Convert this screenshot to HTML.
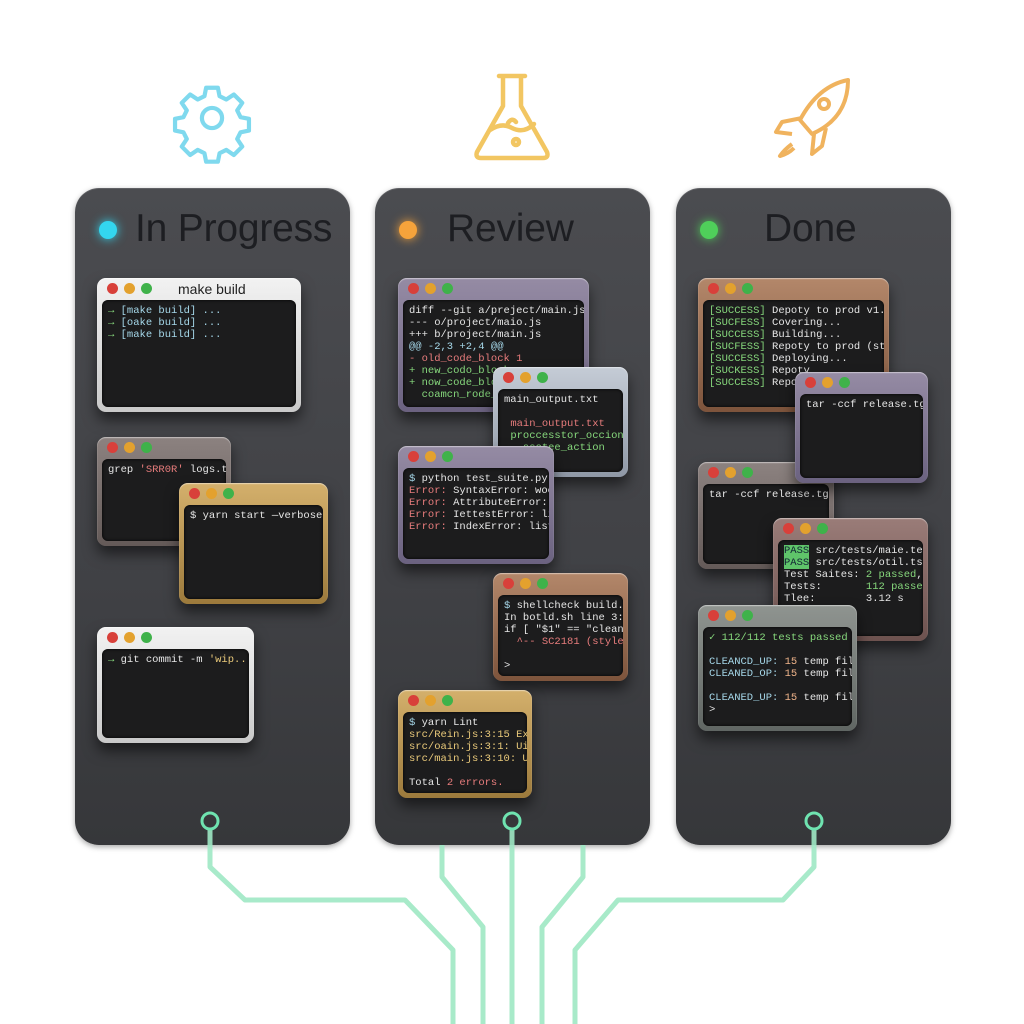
<!DOCTYPE html>
<html><head><meta charset="utf-8">
<style>
body{margin:0;width:1024px;height:1024px;background:#fff;position:relative;overflow:hidden;font-family:"Liberation Sans",sans-serif}
.panel{position:absolute;top:188px;height:657px;width:275px;border-radius:24px;background:linear-gradient(180deg,#4b4c50 0%,#404145 60%,#36373a 100%);box-shadow:0 2px 6px rgba(0,0,0,.35),inset 0 1px 0 rgba(255,255,255,.12)}
.hd{position:absolute;top:19px;font-size:39px;color:#1d1e22;letter-spacing:-0.2px}
.dot{position:absolute;top:33px;left:24px;width:18px;height:18px;border-radius:50%}
.w{position:absolute;border-radius:9px;padding:0 5px 5px 5px;box-shadow:0 8px 14px rgba(0,0,0,.55),inset 0 1px 1px rgba(255,255,255,.5);box-sizing:border-box}
.tb{height:22px;position:relative}
.tb i{position:absolute;top:5px;width:11px;height:11px;border-radius:50%}
.tb i:nth-child(1){left:5px;background:#d8403a}
.tb i:nth-child(2){left:22px;background:#e3a12e}
.tb i:nth-child(3){left:39px;background:#3fb24a}
.tb b{position:absolute;left:76px;top:3px;font-weight:normal;font-size:14px;color:#222}
.sc{background:#1c1c1d;border-radius:6px;box-shadow:inset 0 0 3px #000;position:absolute;left:5px;right:5px;top:22px;bottom:5px;padding:5px 6px;font-family:"Liberation Mono",monospace;font-size:10.5px;line-height:12px;color:#e6e6e6;white-space:pre;overflow:hidden}
.g{color:#86d77c}.r{color:#e77c7c}.c{color:#a6d8ea}.y{color:#e9c97a}.o{color:#f0b48a}
.silver{background:linear-gradient(#f2f2f2,#c9c9c9)}
.taupe{background:linear-gradient(#8c8280,#645a58)}
.gold{background:linear-gradient(#d4b06c,#9c7a3c)}
.purple{background:linear-gradient(#958ba4,#6b6280)}
.blue{background:linear-gradient(#c5ccd6,#8f98a6)}
.copper{background:linear-gradient(#b3876a,#7d543c)}
.green{background:linear-gradient(#8f9490,#606663)}
.rose{background:linear-gradient(#9a7c78,#6d524f)}
</style></head><body>

<svg style="position:absolute;left:0;top:0" width="1024" height="1024">
<g fill="none" stroke="#7fd9ee" stroke-width="5" stroke-linejoin="round" transform="translate(212,118) scale(0.84) translate(-212,-118)">
<path d="M205,82 h14 l2,10 l8,4 l9,-6 l10,10 l-6,9 l4,8 l10,2 v14 l-10,2 l-4,8 l6,9 l-10,10 l-9,-6 l-8,4 l-2,10 h-14 l-2,-10 l-8,-4 l-9,6 l-10,-10 l6,-9 l-4,-8 l-10,-2 v-14 l10,-2 l4,-8 l-6,-9 l10,-10 l9,6 l8,-4 z"/>
<circle cx="212" cy="118" r="12"/>
</g>
<g fill="none" stroke="#f2c662" stroke-width="4.5" stroke-linejoin="round" stroke-linecap="round">
<path d="M499,76 h26 M503,76 v30 l-26,46 q-2,6 4,6 h62 q6,0 4,-6 l-26,-46 v-30"/>
<path d="M490,130 q12,-8 22,-2 q12,6 22,-4"/>
<path d="M508,123 q4,-6 8,-1"/>
<circle cx="516" cy="142" r="3"/>
</g>
<g fill="none" stroke="#f0b35e" stroke-width="4" stroke-linejoin="round">
<path d="M848,80 q-30,6 -48,40 l12,14 q36,-16 36,-54 z"/>
<circle cx="824" cy="104" r="5"/>
<path d="M802,118 l-20,4 l-6,10 l16,2 M814,134 l-2,20 l10,-8 l4,-18"/>
<path d="M792,144 q-8,6 -12,12 q8,-2 14,-8"/>
</g>
</svg>

<div class="panel" style="left:75px"><div class="dot" style="background:#33d6ef;box-shadow:0 0 10px #33d6ef"></div><div class="hd" style="left:60px">In Progress</div></div>
<div class="panel" style="left:375px"><div class="dot" style="background:#f6a33b;box-shadow:0 0 10px #f6a33b"></div><div class="hd" style="left:72px">Review</div></div>
<div class="panel" style="left:676px"><div class="dot" style="background:#4fcf5a;box-shadow:0 0 10px #4fcf5a"></div><div class="hd" style="left:88px">Done</div></div>

<!-- left -->
<div class="w silver" style="left:97px;top:278px;width:204px;height:134px"><div class="tb"><i></i><i></i><i></i><b>make build</b></div><div class="sc"><span class="g">→</span> <span class="c">[make build] ...</span>
<span class="g">→</span> <span class="c">[oake build] ...</span>
<span class="g">→</span> <span class="c">[make build] ...</span></div></div>
<div class="w taupe" style="left:97px;top:437px;width:134px;height:109px"><div class="tb"><i></i><i></i><i></i></div><div class="sc">grep <span class="r">'SRR0R'</span> logs.tx</div></div>
<div class="w gold" style="left:179px;top:483px;width:149px;height:121px"><div class="tb"><i></i><i></i><i></i></div><div class="sc">$ yarn start —verbose</div></div>
<div class="w silver" style="left:97px;top:627px;width:157px;height:116px"><div class="tb"><i></i><i></i><i></i></div><div class="sc"><span class="g">→</span> git commit -m <span class="y">'wip...</span></div></div>

<!-- middle -->
<div class="w purple" style="left:398px;top:278px;width:191px;height:134px"><div class="tb"><i></i><i></i><i></i></div><div class="sc">diff --git a/preject/main.js b
--- o/project/maio.js
+++ b/project/main.js
<span class="c">@@ -2,3 +2,4 @@</span>
<span class="r">- old_code_block 1</span>
<span class="g">+ new_codo_block</span>
<span class="g">+ now_code_block</span>
<span class="g">  coamcn_rode_c</span></div></div>
<div class="w blue" style="left:493px;top:367px;width:135px;height:110px"><div class="tb"><i></i><i></i><i></i></div><div class="sc">main_output.txt

 <span class="r">main_output.txt</span>
 <span class="g">proccesstor_occion</span>
 <span class="g">  ssotee_action</span></div></div>
<div class="w purple" style="left:398px;top:446px;width:156px;height:118px"><div class="tb"><i></i><i></i><i></i></div><div class="sc"><span class="c">$</span> python test_suite.py
<span class="r">Error:</span> SyntaxError: woox
<span class="r">Error:</span> AttributeError: 'A
<span class="r">Error:</span> IettestError: list
<span class="r">Error:</span> IndexError: list i</div></div>
<div class="w copper" style="left:493px;top:573px;width:135px;height:108px"><div class="tb"><i></i><i></i><i></i></div><div class="sc"><span class="c">$</span> shellcheck build.sh
In botld.sh line 3:
if [ "$1" == "clean"
  <span class="r">^-- SC2181 (style):</span>

&gt;</div></div>
<div class="w gold" style="left:398px;top:690px;width:134px;height:108px"><div class="tb"><i></i><i></i><i></i></div><div class="sc"><span class="c">$</span> yarn Lint
<span class="y">src/Rein.js:3:15 Expo
src/oain.js:3:1: Uipe
src/main.js:3:10: Une</span>

Total <span class="r">2 errors.</span></div></div>

<!-- right -->
<div class="w copper" style="left:698px;top:278px;width:191px;height:134px"><div class="tb"><i></i><i></i><i></i></div><div class="sc"><span class="g">[SUCCESS]</span> Depoty to prod v1.2
<span class="g">[SUCFESS]</span> Covering...
<span class="g">[SUCCESS]</span> Building...
<span class="g">[SUCFESS]</span> Repoty to prod (stag
<span class="g">[SUCCESS]</span> Deploying...
<span class="g">[SUCKESS]</span> Repoty
<span class="g">[SUCCESS]</span> Repot</div></div>
<div class="w taupe" style="left:698px;top:462px;width:136px;height:107px"><div class="tb"><i></i><i></i><i></i></div><div class="sc">tar -ccf release.tgx</div></div>
<div class="w purple" style="left:795px;top:372px;width:133px;height:111px"><div class="tb"><i></i><i></i><i></i></div><div class="sc">tar -ccf release.tgz</div></div>
<div class="w rose" style="left:773px;top:518px;width:155px;height:123px"><div class="tb"><i></i><i></i><i></i></div><div class="sc"><span style="background:#5fc46a;color:#123">PASS</span> src/tests/maie.te:
<span style="background:#5fc46a;color:#123">PASS</span> src/tests/otil.ts:
Test Saites: <span class="g">2 passed</span>, 2
Tests:       <span class="g">112 passed</span>,
Tlee:        3.12 s</div></div>
<div class="w green" style="left:698px;top:605px;width:159px;height:126px"><div class="tb"><i></i><i></i><i></i></div><div class="sc"><span class="g">✓ 112/112 tests passed</span>

<span class="c">CLEANCD_UP:</span> <span class="o">15</span> temp files
<span class="c">CLEANED_OP:</span> <span class="o">15</span> temp files

<span class="c">CLEANED_UP:</span> <span class="o">15</span> temp files
&gt;</div></div>

<svg style="position:absolute;left:0;top:0" width="1024" height="1024">
<g fill="none" stroke="#9fe8c4" stroke-width="5" stroke-linejoin="round" opacity="0.9">
<path d="M210,830 V867 L245,900 H405 L453,950 V1024"/>
<path d="M442,845 V877 L483,927 V1024"/>
<path d="M512,830 V1024"/>
<path d="M583,845 V877 L542,927 V1024"/>
<path d="M814,830 V867 L783,900 H618 L575,950 V1024"/>
</g>
<g fill="none" stroke="#6fe3b0" stroke-width="3">
<circle cx="210" cy="821" r="8"/><circle cx="512" cy="821" r="8"/><circle cx="814" cy="821" r="8"/>
</g>
</svg>
</body></html>
